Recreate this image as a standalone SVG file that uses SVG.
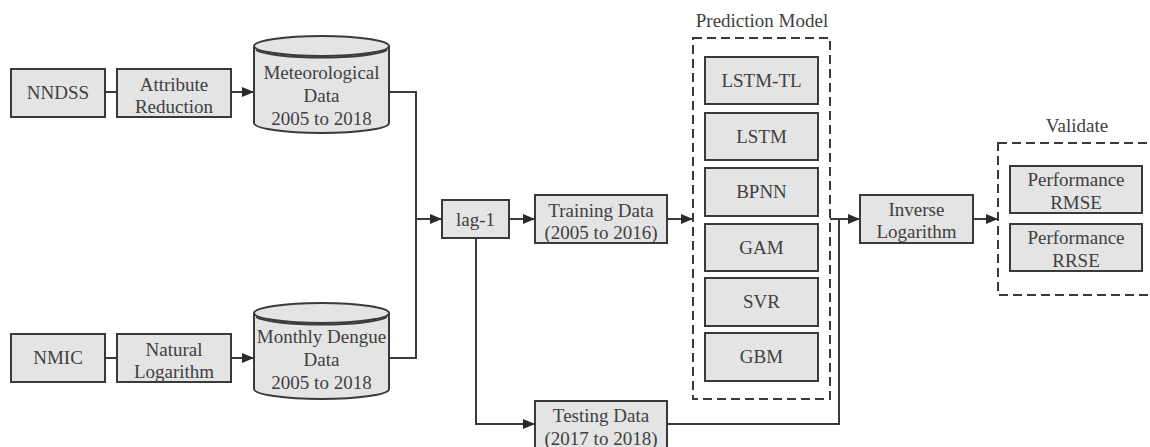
<svg xmlns="http://www.w3.org/2000/svg" width="1150" height="447" viewBox="0 0 1150 447">
<defs>
<style>
.box{fill:#e4e4e4;stroke:#3a3a3a;stroke-width:2}
.cyl{fill:#e4e4e4;stroke:#3a3a3a;stroke-width:2}
.t{font-family:"Liberation Serif","Times New Roman",serif;font-size:19px;fill:#404040;text-anchor:middle}
.c{fill:none;stroke:#3a3a3a;stroke-width:2}
.d{fill:none;stroke:#3a3a3a;stroke-width:2;stroke-dasharray:9 5}
</style>
<marker id="a" markerWidth="12" markerHeight="10" refX="12" refY="5" orient="auto" markerUnits="userSpaceOnUse">
<path d="M0,0 L12,5 L0,10 Z" fill="#2a2a2a"/>
</marker>
</defs>
<rect width="1150" height="447" fill="#fff"/>

<g id="connectors">
<path class="c" d="M105,92 H117"/>
<path class="c" d="M231,92 H254" marker-end="url(#a)"/>
<path class="c" d="M105,358 H117"/>
<path class="c" d="M231,358 H254" marker-end="url(#a)"/>
<path class="c" d="M389,92 H416 V358 H389"/>
<path class="c" d="M416,219 H442" marker-end="url(#a)"/>
<path class="c" d="M509,219 H535" marker-end="url(#a)"/>
<path class="c" d="M667,219 H693" marker-end="url(#a)"/>
<path class="c" d="M476,238 V424 H535" marker-end="url(#a)"/>
<path class="c" d="M667,424 H839 V219"/>
<path class="c" d="M830,219 H860" marker-end="url(#a)"/>
<path class="c" d="M973,219 H998" marker-end="url(#a)"/>
</g>

<g id="nndss"><rect class="box" x="11" y="69" width="94" height="48"/><text class="t" x="58" y="99">NNDSS</text></g>
<g id="attribute-reduction"><rect class="box" x="117" y="69" width="114" height="48"/><text class="t" x="174" y="91">Attribute</text><text class="t" x="174" y="113">Reduction</text></g>
<g id="meteorological-data">
<path class="cyl" d="M254,46 V123 A67.5,10 0 0 0 389,123 V46"/>
<ellipse class="cyl" cx="321.5" cy="46" rx="67.5" ry="10"/>
<path class="c" d="M256,50 A67.5,10 0 0 0 387,50"/>
<text class="t" x="321.5" y="79">Meteorological</text><text class="t" x="321.5" y="102">Data</text><text class="t" x="321.5" y="125">2005 to 2018</text>
</g>

<g id="nmic"><rect class="box" x="11" y="334" width="94" height="48"/><text class="t" x="58" y="364">NMIC</text></g>
<g id="natural-logarithm"><rect class="box" x="117" y="334" width="114" height="48"/><text class="t" x="174" y="356">Natural</text><text class="t" x="174" y="378">Logarithm</text></g>
<g id="monthly-dengue-data">
<path class="cyl" d="M254,313 V389 A67.5,10 0 0 0 389,389 V313"/>
<ellipse class="cyl" cx="321.5" cy="313" rx="67.5" ry="10"/>
<path class="c" d="M256,317 A67.5,10 0 0 0 387,317"/>
<text class="t" x="321.5" y="343">Monthly Dengue</text><text class="t" x="321.5" y="366">Data</text><text class="t" x="321.5" y="389">2005 to 2018</text>
</g>

<g id="lag-1"><rect class="box" x="442" y="200" width="67" height="38"/><text class="t" x="475.5" y="226">lag-1</text></g>
<g id="training-data"><rect class="box" x="535" y="195" width="132" height="48"/><text class="t" x="601" y="217">Training Data</text><text class="t" x="601" y="239">(2005 to 2016)</text></g>
<g id="testing-data"><rect class="box" x="535" y="401" width="132" height="50"/><text class="t" x="601" y="422">Testing Data</text><text class="t" x="601" y="445">(2017 to 2018)</text></g>

<g id="prediction-model">
<text class="t" x="762" y="27">Prediction Model</text>
<rect class="d" x="693" y="38" width="137" height="361"/>
</g>
<g id="lstm-tl"><rect class="box" x="705" y="57" width="113" height="47"/><text class="t" x="761.5" y="87">LSTM-TL</text></g>
<g id="lstm"><rect class="box" x="705" y="113" width="113" height="47"/><text class="t" x="761.5" y="143">LSTM</text></g>
<g id="bpnn"><rect class="box" x="705" y="168" width="113" height="48"/><text class="t" x="761.5" y="198">BPNN</text></g>
<g id="gam"><rect class="box" x="705" y="224" width="113" height="47"/><text class="t" x="761.5" y="254">GAM</text></g>
<g id="svr"><rect class="box" x="705" y="278" width="113" height="48"/><text class="t" x="761.5" y="308">SVR</text></g>
<g id="gbm"><rect class="box" x="705" y="333" width="113" height="48"/><text class="t" x="761.5" y="363">GBM</text></g>

<g id="inverse-logarithm"><rect class="box" x="860" y="195" width="113" height="48"/><text class="t" x="916.5" y="216">Inverse</text><text class="t" x="916.5" y="238">Logarithm</text></g>

<g id="validate">
<text class="t" x="1077" y="132">Validate</text>
<rect class="d" x="998" y="143" width="160" height="152"/>
</g>
<g id="performance-rmse"><rect class="box" x="1010" y="166" width="132" height="47"/><text class="t" x="1076" y="186">Performance</text><text class="t" x="1076" y="209">RMSE</text></g>
<g id="performance-rrse"><rect class="box" x="1010" y="224" width="132" height="47"/><text class="t" x="1076" y="244">Performance</text><text class="t" x="1076" y="267">RRSE</text></g>
</svg>
